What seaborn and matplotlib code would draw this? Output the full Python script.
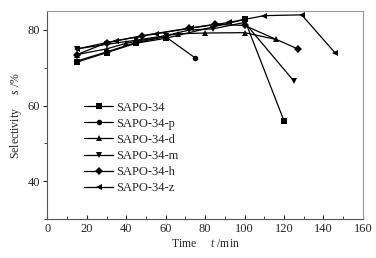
import pandas as pd
import seaborn as sns
import matplotlib.pyplot as plt
from matplotlib.ticker import MultipleLocator

# data
names = ['SAPO-34', 'SAPO-34-p', 'SAPO-34-d', 'SAPO-34-m', 'SAPO-34-h', 'SAPO-34-z']
t_34 = [15, 30, 45, 60, 100, 120]
s_34 = [71.5, 74.0, 76.5, 77.8, 82.8, 56.0]
t_p = [15, 30, 45, 60, 75]
s_p = [71.8, 74.2, 76.7, 78.2, 72.6]
t_d = [15, 30, 40, 66, 80, 100, 116]
s_d = [73.5, 75.0, 76.5, 79.0, 79.2, 79.3, 77.5]
t_m = [15, 30, 45, 60, 72, 84, 100, 125]
s_m = [75.0, 76.2, 77.3, 78.5, 80.0, 80.3, 82.0, 66.5]
t_h = [15, 30, 48, 72, 85, 100, 127]
s_h = [73.5, 76.6, 78.5, 80.5, 81.5, 81.2, 75.0]
t_z = [15, 35, 55, 73, 92, 110, 129, 146]
s_z = [75.0, 77.2, 79.0, 80.5, 82.0, 83.8, 84.0, 73.9]

times = [t_34, t_p, t_d, t_m, t_h, t_z]
sels = [s_34, s_p, s_d, s_m, s_h, s_z]
rows = []
for n, ts, ss in zip(names, times, sels):
    for t, s in zip(ts, ss):
        rows.append({'sample': n, 'time': t, 'sel': s})
df = pd.DataFrame(rows)

sns.set_style('ticks')
plt.rcParams['font.family'] = ['Liberation Serif', 'DejaVu Serif']
plt.rcParams['mathtext.fontset'] = 'custom'
plt.rcParams['mathtext.it'] = 'Liberation Serif:italic'
plt.rcParams['mathtext.rm'] = 'Liberation Serif'

fig = plt.figure(figsize=(3.76, 2.58), dpi=100)
ax = fig.add_axes([0.126, 0.151, 0.839, 0.806])

markers = {'SAPO-34': 's', 'SAPO-34-p': 'o', 'SAPO-34-d': '^',
           'SAPO-34-m': 'v', 'SAPO-34-h': 'D', 'SAPO-34-z': '<'}
sns.lineplot(data=df, x='time', y='sel', hue='sample', style='sample',
             palette=['black'] * 6, markers=markers, dashes=False,
             sort=False, linewidth=0.9, markersize=4, markeredgewidth=0,
             ax=ax)

ax.set_xlim(0, 160)
ax.set_ylim(30, 85)
ax.xaxis.set_major_locator(MultipleLocator(20))
ax.xaxis.set_minor_locator(MultipleLocator(10))
ax.yaxis.set_minor_locator(MultipleLocator(10))
ax.set_yticks([40, 60, 80])
ax.tick_params(axis='x', which='both', direction='in', labelsize=9, pad=3)
ax.tick_params(axis='x', which='major', length=3)
ax.tick_params(axis='x', which='minor', length=2)
ax.tick_params(axis='y', which='both', direction='out', labelsize=9, pad=2)
ax.tick_params(axis='y', which='major', length=3)
ax.tick_params(axis='y', which='minor', length=2)
for side in ['top', 'right']:
    ax.spines[side].set_color('#999999')
for side in ['left', 'bottom']:
    ax.spines[side].set_color('#555555')
for sp in ax.spines.values():
    sp.set_linewidth(0.8)

ax.set_xlabel('Time     $t$ /min', fontsize=8.5, labelpad=2)
ax.set_ylabel('Selectivity     $s$ /%', fontsize=8.5, labelpad=3)

ax.legend(loc='upper left', bbox_to_anchor=(0.117, 0.565), frameon=False,
          fontsize=9, handlelength=2.3, handletextpad=0.25, labelspacing=0.33,
          borderpad=0, borderaxespad=0)

fig.savefig('out.png', dpi=100)
